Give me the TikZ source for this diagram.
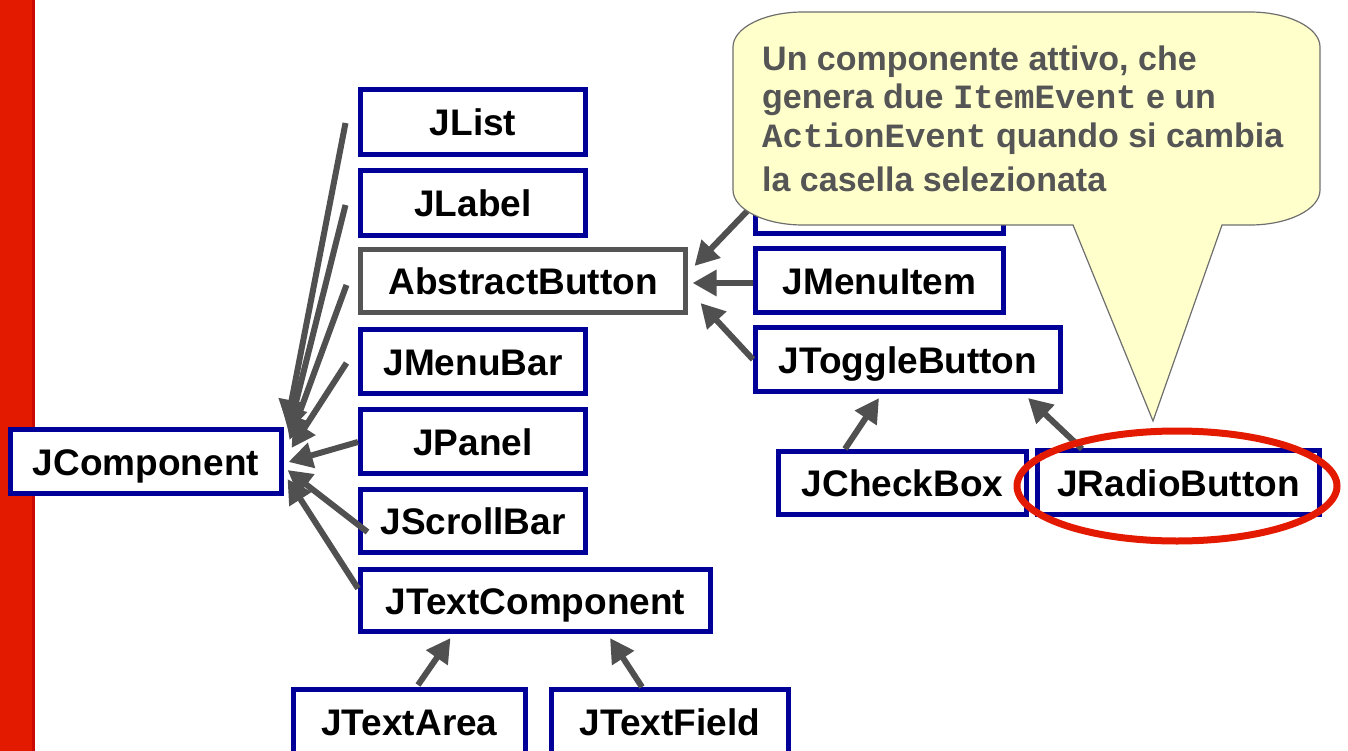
\documentclass[tikz,border=0pt]{standalone}
\usepackage{fontspec}
\setmainfont{Liberation Sans}
\newfontfamily\codefont{Liberation Mono}
\usetikzlibrary{arrows.meta,calc}
\definecolor{barred}{RGB}{228,26,0}
\definecolor{baredge}{RGB}{205,10,0}
\definecolor{boxblue}{RGB}{0,0,153}
\definecolor{absgray}{RGB}{85,85,85}
\definecolor{arrowgray}{RGB}{80,80,80}
\definecolor{notefill}{RGB}{255,255,204}
\definecolor{noteline}{RGB}{110,110,110}
\definecolor{notetext}{RGB}{85,85,85}
\definecolor{ringred}{RGB}{228,26,0}

\begin{document}
\begin{tikzpicture}[x=1pt,y=-1pt,
  cls/.style={draw=boxblue, line width=5pt, fill=white, inner sep=0pt,
    font=\fontsize{37}{40}\selectfont\bfseries, text height=27pt, text depth=0pt},
  abscls/.style={cls, draw=absgray},
  inh/.style={draw=arrowgray, line width=6pt, -{Triangle[length=24pt,width=25pt]}},
  notetxt/.style={anchor=base west, inner sep=0pt, text=notetext,
    font=\fontsize{34}{40}\selectfont\bfseries},
  ring/.style={draw=ringred, line width=7pt}
]
\useasboundingbox (0,0) rectangle (1348,751);

% left margin bar
\fill[barred] (0,0) rectangle (35,751);
\fill[baredge] (32,0) rectangle (35,751);

% class boxes
\node[cls, minimum width=271pt, minimum height=64pt] (jcomp) at (146,461.5) {JComponent};
\node[cls, minimum width=225pt, minimum height=65pt] (jlist) at (473,122) {JList};
\node[cls, minimum width=225pt, minimum height=65pt] (jlabel) at (473,203) {JLabel};
\node[abscls, minimum width=325pt, minimum height=63pt] (abstract) at (523,281) {AbstractButton};
\node[cls, minimum width=225pt, minimum height=64pt] (jmenubar) at (473,361.5) {JMenuBar};
\node[cls, minimum width=225pt, minimum height=64pt] (jpanel) at (473,441.5) {JPanel};
\node[cls, minimum width=225pt, minimum height=63pt] (jscroll) at (473,521) {JScrollBar};
\node[cls, minimum width=350pt, minimum height=62pt] (jtextcomp) at (535.5,600.5) {JTextComponent};
\node[cls, minimum width=232pt, minimum height=65pt] (jtextarea) at (409.5,722) {JTextArea};
\node[cls, minimum width=237pt, minimum height=65pt] (jtextfield) at (670,722) {JTextField};
\node[cls, minimum width=248pt, minimum height=63pt] (jbutton) at (879.5,202) {};
\node[cls, minimum width=248pt, minimum height=64pt] (jmenuitem) at (879.5,280.5) {JMenuItem};
\node[cls, minimum width=305pt, minimum height=64pt] (jtoggle) at (908,359.5) {JToggleButton};
\node[cls, minimum width=248pt, minimum height=63pt] (jcheck) at (902.5,483) {JCheckBox};
\node[cls, minimum width=282pt, minimum height=64pt] (jradio) at (1178.5,482.5) {JRadioButton};

% inheritance arrows towards JComponent
\draw[inh] ($(jlist.west)+(-12.5,1)$) -- ($(jcomp.east)+(3,-37.5)$);
\draw[inh] ($(jlabel.west)+(-12.5,2)$) -- ($(jcomp.east)+(4.5,-29.5)$);
\draw[inh] ($(abstract.west)+(-11.5,4)$) -- ($(jcomp.east)+(5.5,-21.5)$);
\draw[inh] ($(jmenubar.west)+(-11.5,1.5)$) -- ($(jcomp.east)+(7.5,-13.5)$);
\draw[inh] ($(jpanel.west)+(0,0.5)$) -- ($(jcomp.east)+(4.5,0.5)$);
\draw[inh] ($(jscroll.west)+(9.5,11)$) -- ($(jcomp.east)+(3.5,8.5)$);
\draw[inh] ($(jtextcomp.west)+(0,-12)$) -- ($(jcomp.east)+(3.5,17.5)$);

% text components
\draw[inh] ($(jtextarea.north)+(8.5,-2)$) -- ($(jtextcomp.south)+(-85,4)$);
\draw[inh] ($(jtextfield.north)+(-28,0)$) -- ($(jtextcomp.south)+(74.5,4)$);

% button hierarchy
\draw[inh] ($(jbutton.west)+(0,3)$) -- ($(abstract.east)+(6.5,-15)$);
\draw[inh] ($(jmenuitem.west)+(0,2.5)$) -- ($(abstract.east)+(4.5,2)$);
\draw[inh] (jtoggle.west) -- ($(abstract.east)+(12.5,22)$);
\draw[inh] ($(jcheck.north)+(-57.5,0)$) -- ($(jtoggle.south)+(-29,4)$);
\draw[inh] ($(jradio.north)+(-96.5,1)$) -- ($(jtoggle.south)+(120,4)$);

% speech bubble
\draw[fill=notefill, draw=noteline, line width=1.2pt]
  (733,47) .. controls (733,27.7) and (764.5,12) .. (803,12)
  -- (1250,12) .. controls (1288.5,12) and (1320,27.7) .. (1320,47)
  -- (1320,190) .. controls (1320,209.3) and (1288.5,225) .. (1250,225)
  -- (1222,225) -- (1153,421) -- (1073,225)
  -- (803,225) .. controls (764.5,225) and (733,209.3) .. (733,190)
  -- cycle;
\node[notetxt] (note1) at (762,71) {Un componente attivo, che};
\node[notetxt] (note2) at (762,109) {genera due {\codefont ItemEvent} e un};
\node[notetxt] (note3) at (762,148) {{\codefont ActionEvent} quando si cambia};
\node[notetxt] (note4) at (762,192) {la casella selezionata};

% highlight ring
\draw[ring] (jradio.center) ++(-1.5,3.5) ellipse [x radius=160, y radius=55];
\end{tikzpicture}
\end{document}
